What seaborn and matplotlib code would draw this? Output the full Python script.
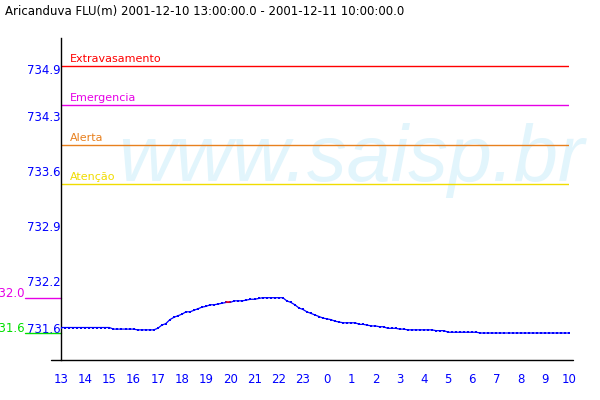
import pandas as pd
import seaborn as sns
import matplotlib.pyplot as plt
import matplotlib.transforms as mtransforms

# water level readings, every 10 minutes from 13:00 to 10:00
level = [
    731.67, 731.67, 731.67, 731.67, 731.67, 731.67, 731.67, 731.67, 731.67, 731.67,
    731.67, 731.67, 731.67, 731.65, 731.65, 731.65, 731.65, 731.65, 731.65, 731.64,
    731.64, 731.64, 731.64, 731.64, 731.66, 731.70, 731.72, 731.77, 731.80, 731.82,
    731.84, 731.87, 731.87, 731.89, 731.91, 731.93, 731.94, 731.96, 731.96, 731.97,
    731.98, 731.99, 731.99, 732.01, 732.01, 732.01, 732.02, 732.03, 732.03, 732.04,
    732.05, 732.05, 732.05, 732.05, 732.05, 732.05, 732.01, 731.99, 731.96, 731.92,
    731.90, 731.87, 731.85, 731.83, 731.81, 731.79, 731.78, 731.77, 731.75, 731.74,
    731.73, 731.73, 731.73, 731.73, 731.71, 731.71, 731.70, 731.69, 731.69, 731.68,
    731.68, 731.66, 731.66, 731.66, 731.65, 731.65, 731.64, 731.64, 731.64, 731.64,
    731.64, 731.64, 731.64, 731.63, 731.63, 731.63, 731.61, 731.61, 731.61, 731.61,
    731.61, 731.61, 731.61, 731.61, 731.60, 731.60, 731.60, 731.60, 731.60, 731.60,
    731.60, 731.60, 731.60, 731.60, 731.60, 731.60, 731.60, 731.60, 731.60, 731.60,
    731.60, 731.60, 731.60, 731.60, 731.60, 731.60, 731.60,
]
flagged = [41, 42]  # segment drawn in red

hour_labels = ['13', '14', '15', '16', '17', '18', '19', '20', '21', '22', '23',
               '0', '1', '2', '3', '4', '5', '6', '7', '8', '9', '10']
ytick_vals = [731.6, 732.2, 732.9, 733.6, 734.3, 734.9]

alert_names = ['Extravasamento', 'Emergencia', 'Alerta', 'Atenção']
alert_levels = [735.0, 734.5, 734.0, 733.5]
alert_colors = ['#ff0000', '#e600e6', '#e8801e', '#f0dc00']

# max / min marks
ref_levels = [732.05, 731.60]
ref_labels = ['732.0', '731.6']
ref_colors = ['#e600e6', '#00e000']

title = 'Aricanduva FLU(m) 2001-12-10 13:00:00.0 - 2001-12-11 10:00:00.0'

times = pd.date_range('2001-12-10 13:00', periods=len(level), freq='10min')
df = pd.DataFrame({'time': times, 'level': level})

sns.set_style('white')
plt.rcParams['font.family'] = ['DejaVu Sans']

fig = plt.figure(figsize=(6, 4), dpi=100)
ax = fig.add_axes([61 / 600, 40 / 400, 508 / 600, 322 / 400])
ax.set_facecolor('none')

blue = '#0000ff'

# watermark
ax.text(118 / 600, 1 - 181 / 400, 'www.saisp.br', transform=fig.transFigure,
        family='Liberation Sans', style='italic', fontsize=57, color='#e2f5fc',
        va='baseline', ha='left', zorder=0, clip_on=False)

# alert level lines
for name, val, col in zip(alert_names, alert_levels, alert_colors):
    ax.axhline(val, color=col, lw=1, zorder=2)
    ax.annotate(name, xy=(0, val), xycoords=('axes fraction', 'data'),
                xytext=(9, 4), textcoords='offset pixels',
                color=col, fontsize=8, va='baseline', ha='left')

# series
sns.lineplot(data=df, x='time', y='level', ax=ax, color=blue, lw=0.9,
             marker='s', markersize=1.8, markeredgewidth=0, zorder=3)
sub = df.iloc[flagged]
sns.lineplot(data=sub, x='time', y='level', ax=ax, color='red', lw=1.1, zorder=4)

# max / min reference marks left of the axis
trans = mtransforms.blended_transform_factory(ax.transAxes, ax.transData)
for val, lab, col in zip(ref_levels, ref_labels, ref_colors):
    ax.plot([-36 / 508, 0], [val, val], color=col, lw=1, transform=trans, clip_on=False)
    ax.annotate(lab, xy=(-36 / 508, val), xycoords=trans,
                xytext=(0, 1), textcoords='offset pixels',
                color=col, fontsize=8.5, ha='right', va='baseline',
                annotation_clip=False)

ax.set_xlim(times[0], times[-1])
ax.set_ylim(731.256, 735.36)

hour_ticks = pd.date_range(times[0], times[-1], freq='1h')
ax.set_xticks(hour_ticks)
ax.set_xticklabels(hour_labels)
ax.set_yticks(ytick_vals)
ax.set_yticklabels([f'{v:.1f}' for v in ytick_vals])
for lbl in ax.get_yticklabels():
    lbl.set_va('baseline')

ax.tick_params(axis='x', direction='out', length=8.5, width=0.8, color=blue,
               labelcolor=blue, labelsize=8.5, pad=1)
ax.tick_params(axis='y', direction='out', length=7.5, width=0.8, color=blue,
               labelcolor=blue, labelsize=8.5, pad=-7.5)

ax.set_xlabel('')
ax.set_ylabel('')
for side in ['top', 'right', 'bottom']:
    ax.spines[side].set_visible(False)
ax.spines['left'].set_color('black')
ax.spines['left'].set_linewidth(1)

# x axis line, a bit wider than the plot area
ax.plot([-10 / 508, 1 + 4 / 508], [0, 0], color='black', lw=1,
        transform=ax.transAxes, clip_on=False)

fig.text(5 / 600, 1 - 15 / 400, title, fontsize=8.5, color='black',
         va='baseline', ha='left')

fig.savefig('out.png', dpi=100)
